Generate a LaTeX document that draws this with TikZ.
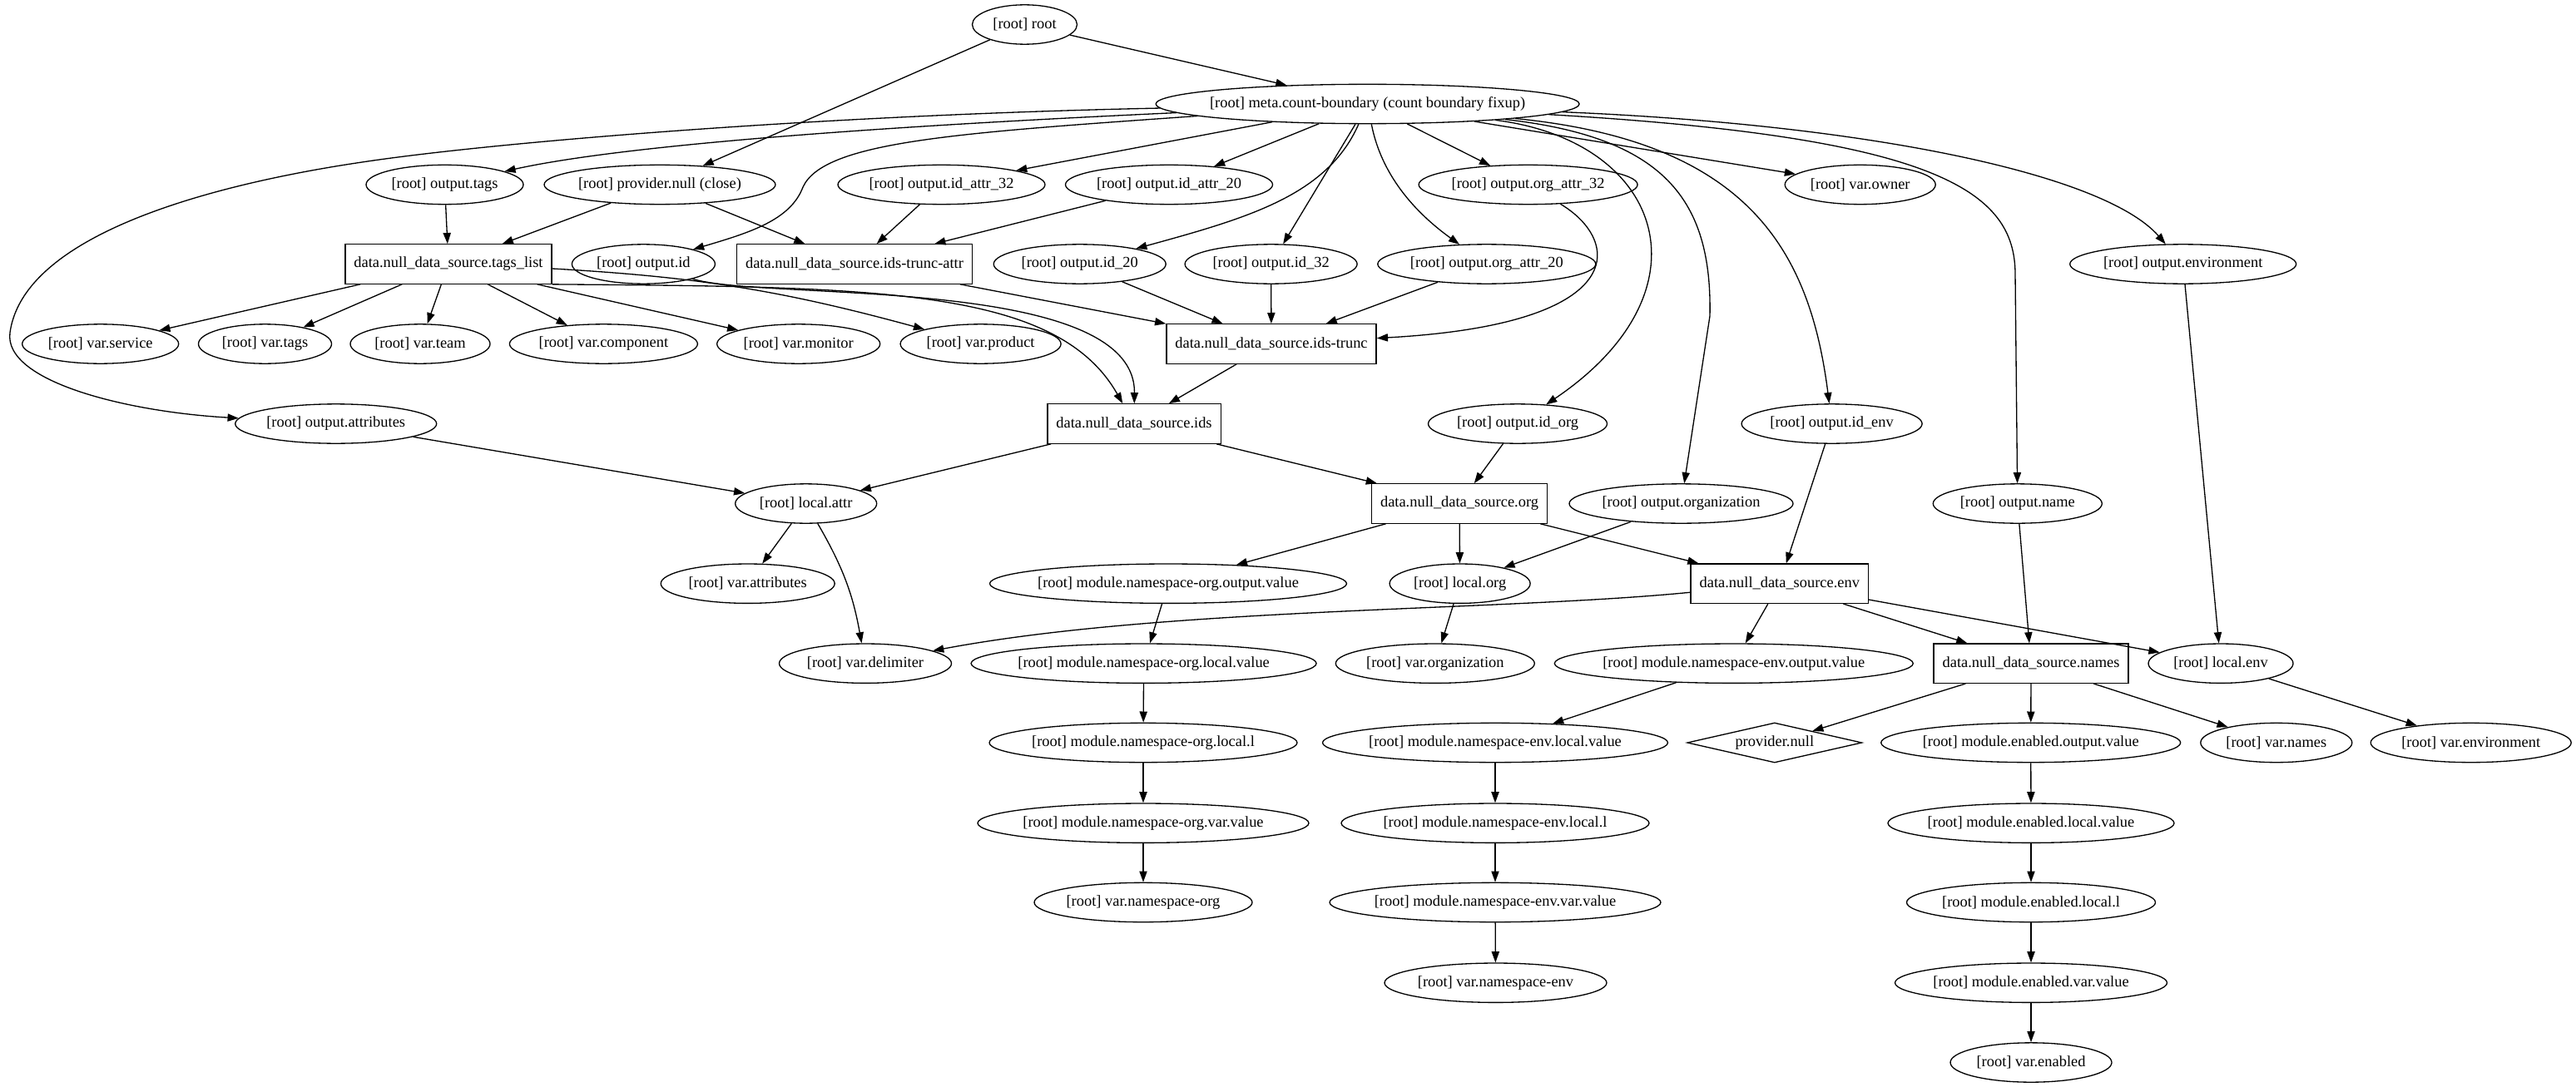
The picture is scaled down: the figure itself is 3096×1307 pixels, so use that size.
\documentclass[tikz,border=0pt]{standalone}
\usepackage{fontspec}
\setmainfont{Liberation Serif}
\usetikzlibrary{shapes.geometric,arrows.meta}
\tikzset{
  gvbase/.style={draw, line width=1pt, font=\fontsize{14pt}{16.8pt}\selectfont, minimum height=36pt},
  gvell/.style={gvbase, ellipse, inner xsep=-8pt, inner ysep=2pt, minimum width=#1*0.76pt},
  gvbox/.style={gvbase, rectangle, inner xsep=8pt, inner ysep=2pt},
  gvdia/.style={gvbase, diamond, shape aspect=4.4, inner sep=0pt, minimum width=159.6pt, minimum height=36.5pt},
  gvedge/.style={line width=1pt, -{Triangle[length=10pt,width=7pt]}},
}
\begin{document}
\begin{tikzpicture}[x=0.76pt,y=-0.76pt]
\useasboundingbox (0,0) rectangle (3096,1307);
% rank 0-1
\node[gvell=126] (root) at (1231.5,29.5) {[root] root};
\node[gvell=509] (meta) at (1643.6,125) {[root] meta.count-boundary (count boundary fixup)};
% rank 2
\node[gvell=189] (otags) at (534.5,222) {[root] output.tags};
\node[gvell=278] (pclose) at (793,222) {[root] provider.null (close)};
\node[gvell=249] (oidattrA) at (1131.5,222) {[root] output.id\_attr\_32};
\node[gvell=249] (oidattrB) at (1405,222) {[root] output.id\_attr\_20};
\node[gvell=263] (oorgattrA) at (1836.6,222) {[root] output.org\_attr\_32};
\node[gvell=181] (vowner) at (2235.7,222) {[root] var.owner};
% rank 3
\node[gvbox] (tagslist) at (539,317.5) {data.null\_data\_source.tags\_list};
\node[gvell=172] (oid) at (773.4,317.5) {[root] output.id};
\node[gvbox] (idstruncattr) at (1027,317.5) {data.null\_data\_source.ids-trunc-attr};
\node[gvell=207] (oidB) at (1297.7,317.5) {[root] output.id\_20};
\node[gvell=207] (oidA) at (1527.6,317.5) {[root] output.id\_32};
\node[gvell=262] (oorgattrB) at (1786.8,317.5) {[root] output.org\_attr\_20};
\node[gvell=272] (oenv) at (2623.7,317.5) {[root] output.environment};
% rank 4
\node[gvell=188] (vservice) at (120.7,413.5) {[root] var.service};
\node[gvell=160] (vtags) at (318.5,413.5) {[root] var.tags};
\node[gvell=168] (vteam) at (505,413.5) {[root] var.team};
\node[gvell=226] (vcomponent) at (725.4,413.5) {[root] var.component};
\node[gvell=196] (vmonitor) at (959.7,413.5) {[root] var.monitor};
\node[gvell=193] (vproduct) at (1178.6,413.5) {[root] var.product};
\node[gvbox] (idstrunc) at (1528,413.5) {data.null\_data\_source.ids-trunc};
% rank 5
\node[gvell=242] (oattributes) at (403.7,509.5) {[root] output.attributes};
\node[gvbox] (ids) at (1363,509.5) {data.null\_data\_source.ids};
\node[gvell=215] (oidorg) at (1824,509.5) {[root] output.id\_org};
\node[gvell=217] (oidenv) at (2201.6,509.5) {[root] output.id\_env};
% rank 6
\node[gvell=170] (lattr) at (968.7,605.5) {[root] local.attr};
\node[gvbox] (org) at (1754,605.5) {data.null\_data\_source.org};
\node[gvell=269] (oorganization) at (2020.5,605.5) {[root] output.organization};
\node[gvell=203] (oname) at (2424.8,605.5) {[root] output.name};
% rank 7
\node[gvell=209] (vattributes) at (898.7,701.7) {[root] var.attributes};
\node[gvell=429] (mnoout) at (1404,701.7) {[root] module.namespace-org.output.value};
\node[gvell=169] (lorg) at (1754.6,701.7) {[root] local.org};
\node[gvbox] (env) at (2138.8,701.7) {data.null\_data\_source.env};
% rank 8
\node[gvell=207] (vdelimiter) at (1040,797.7) {[root] var.delimiter};
\node[gvell=415] (mnolocal) at (1374.6,797.7) {[root] module.namespace-org.local.value};
\node[gvell=239] (vorganization) at (1724.8,797.7) {[root] var.organization};
\node[gvell=431] (mneout) at (2083.8,797.7) {[root] module.namespace-env.output.value};
\node[gvbox] (names) at (2441,797.7) {data.null\_data\_source.names};
\node[gvell=174] (lenv) at (2669,797.7) {[root] local.env};
% rank 9
\node[gvell=370] (mnol) at (1374,893) {[root] module.namespace-org.local.l};
\node[gvell=415] (mnelocal) at (1797,893) {[root] module.namespace-env.local.value};
\node[gvdia] (pnull) at (2132.8,893) {provider.null};
\node[gvell=360] (meout) at (2440.7,893) {[root] module.enabled.output.value};
\node[gvell=182] (vnames) at (2735.8,893) {[root] var.names};
\node[gvell=241] (venvironment) at (2969.7,893) {[root] var.environment};
% rank 10
\node[gvell=398] (mnovar) at (1374,989.7) {[root] module.namespace-org.var.value};
\node[gvell=370] (mnel) at (1797,989.7) {[root] module.namespace-env.local.l};
\node[gvell=344] (melocal) at (2441,989.7) {[root] module.enabled.local.value};
% rank 11
\node[gvell=262] (vnsorg) at (1374,1085) {[root] var.namespace-org};
\node[gvell=398] (mnevar) at (1797,1085) {[root] module.namespace-env.var.value};
\node[gvell=299] (mel) at (2441,1085) {[root] module.enabled.local.l};
% rank 12
\node[gvell=267] (vnsenv) at (1797.5,1181.7) {[root] var.namespace-env};
\node[gvell=327] (mevar) at (2441,1181.7) {[root] module.enabled.var.value};
% rank 13
\node[gvell=194] (venabled) at (2441,1277.5) {[root] var.enabled};

% ---- edges ----
\draw[gvedge] (root) -- (meta);
\draw[gvedge] (root) -- (pclose);
% from meta
\draw[gvedge] (meta) .. controls (1000,138) and (600,170) .. (435,195)
  .. controls (300,215) and (30,270) .. (12,400)
  .. controls (4,458) and (150,495) .. (oattributes);
\draw[gvedge] (meta) .. controls (1100,150) and (760,172) .. (otags);
\draw[gvedge] (meta) .. controls (1150,160) and (990,170) .. (965,225)
  .. controls (950,265) and (900,280) .. (oid);
\draw[gvedge] (meta) -- (oidattrA);
\draw[gvedge] (meta) -- (oidattrB);
\draw[gvedge] (meta) .. controls (1595,235) and (1500,262) .. (oidB);
\draw[gvedge] (meta) -- (oidA);
\draw[gvedge] (meta) .. controls (1660,210) and (1700,255) .. (oorgattrB);
\draw[gvedge] (meta) -- (oorgattrA);
\draw[gvedge] (meta) -- (vowner);
\draw[gvedge] (meta) .. controls (2250,150) and (2530,210) .. (oenv);
\draw[gvedge] (meta) .. controls (2330,165) and (2422,230) .. (2422,330) -- (oname);
\draw[gvedge] (meta) .. controls (2100,170) and (2175,300) .. (oidenv);
\draw[gvedge] (meta) .. controls (2000,165) and (2058,240) .. (2055,380) -- (oorganization);
\draw[gvedge] (meta) .. controls (2000,170) and (2060,350) .. (oidorg);
% rank 2 -> 3
\draw[gvedge] (otags) -- (tagslist);
\draw[gvedge] (pclose) -- (tagslist);
\draw[gvedge] (pclose) -- (idstruncattr);
\draw[gvedge] (oidattrA) -- (idstruncattr);
\draw[gvedge] (oidattrB) -- (idstruncattr);
% tags_list
\draw[gvedge] (tagslist) -- (vservice);
\draw[gvedge] (tagslist) -- (vtags);
\draw[gvedge] (tagslist) -- (vteam);
\draw[gvedge] (tagslist) -- (vcomponent);
\draw[gvedge] (tagslist) -- (vmonitor);
\draw[gvedge] (tagslist) to[bend left=6] (vproduct);
\draw[gvedge] (tagslist.south east) .. controls (1050,345) and (1270,345) .. (ids);
\draw[gvedge] (oid) .. controls (920,362) and (1365,330) .. (ids);
% ids-trunc
\draw[gvedge] (idstruncattr) -- (idstrunc);
\draw[gvedge] (oidB) -- (idstrunc);
\draw[gvedge] (oidA) -- (idstrunc);
\draw[gvedge] (oorgattrB) -- (idstrunc);
\draw[gvedge] (oorgattrA) .. controls (1950,290) and (1960,390) .. (idstrunc);
\draw[gvedge] (idstrunc) -- (ids);
% lower
\draw[gvedge] (oattributes) -- (lattr);
\draw[gvedge] (ids) -- (lattr);
\draw[gvedge] (ids) -- (org);
\draw[gvedge] (lattr) -- (vattributes);
\draw[gvedge] (lattr) to[bend left=10] (vdelimiter);
\draw[gvedge] (oidorg) -- (org);
\draw[gvedge] (oidenv) -- (env);
\draw[gvedge] (org) -- (mnoout);
\draw[gvedge] (org) -- (lorg);
\draw[gvedge] (org) -- (env);
\draw[gvedge] (oorganization) -- (lorg);
\draw[gvedge] (oname) -- (names);
\draw[gvedge] (oenv) -- (lenv);
\draw[gvedge] (env) .. controls (1800,735) and (1400,730) .. (vdelimiter);
\draw[gvedge] (env) -- (mneout);
\draw[gvedge] (env) -- (names);
\draw[gvedge] (env) -- (lenv);
\draw[gvedge] (lorg) -- (vorganization);
\draw[gvedge] (mnoout) -- (mnolocal);
\draw[gvedge] (mnolocal) -- (mnol);
\draw[gvedge] (mnol) -- (mnovar);
\draw[gvedge] (mnovar) -- (vnsorg);
\draw[gvedge] (mneout) -- (mnelocal);
\draw[gvedge] (mnelocal) -- (mnel);
\draw[gvedge] (mnel) -- (mnevar);
\draw[gvedge] (mnevar) -- (vnsenv);
\draw[gvedge] (names) -- (pnull);
\draw[gvedge] (names) -- (meout);
\draw[gvedge] (names) -- (vnames);
\draw[gvedge] (lenv) -- (venvironment);
\draw[gvedge] (meout) -- (melocal);
\draw[gvedge] (melocal) -- (mel);
\draw[gvedge] (mel) -- (mevar);
\draw[gvedge] (mevar) -- (venabled);
\end{tikzpicture}
\end{document}
